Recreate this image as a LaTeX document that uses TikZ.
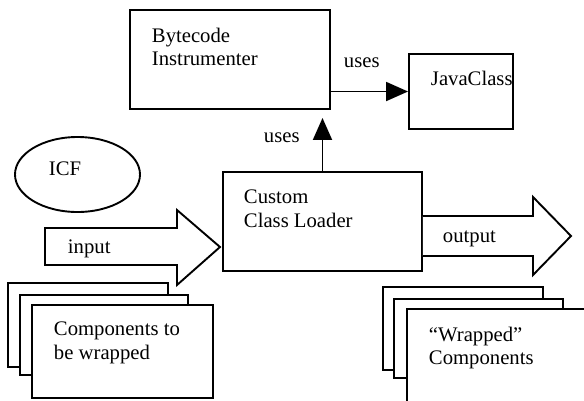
\documentclass[tikz,border=0pt]{standalone}
\usepackage{fontspec}
\setmainfont{Liberation Serif}
\usetikzlibrary{arrows.meta,shapes.geometric,calc}
\begin{document}
\begin{tikzpicture}[x=1pt,y=-1pt,line width=1.9pt,
  box/.style={draw,fill=white,rectangle,inner sep=0pt},
  txt/.style={inner sep=0pt,align=left,font=\fontsize{20.7}{23.5}\selectfont},
  uses/.style={-{Triangle[length=22pt,width=19pt]}},
  blockarrow/.style={draw,fill=white,line join=miter}]
\useasboundingbox (0,0) rectangle (584,400);

% main components
\node[box,minimum width=200pt,minimum height=99pt] (bi) at (230,59.5) {};
\node[box,minimum width=104pt,minimum height=75pt] (jc) at (461,91.5) {};
\node[box,minimum width=199pt,minimum height=99pt] (cl) at (322.5,221.5) {};
\node[draw,ellipse,inner sep=0pt,minimum width=125pt,minimum height=75pt] (icf) at (77.5,174.5) {};

\node[txt,anchor=north west] (biT) at (151,27) {Bytecode\\Instrumenter};
\node[txt,anchor=north west] (jcT) at (430,70) {JavaClass};
\node[txt,anchor=north west] (clT) at (243,189) {Custom\\Class Loader};
\node[txt,anchor=base west] (icfT) at (48,175) {ICF};

% "uses" relations
\draw[uses] (jc.west -| bi.east) -- (jc.west);
\draw[uses,shorten >=8pt] (cl.north) -- (cl.north |- bi.south);
\node[txt,anchor=base west] (u1) at (343,67) {uses};
\node[txt,anchor=base west] (u2) at (263,142) {uses};

% input block arrow into the class loader
\coordinate (inTail) at (45,246.5);
\draw[blockarrow] (inTail |- 0,228) -- (177,228) -- (177,210) -- (220,247)
  -- (177,285) -- (177,265) -- (inTail |- 0,265) -- cycle;
\node[txt,anchor=base west] (inT) at (67,253) {input};

% output block arrow out of the class loader
\draw[blockarrow] (cl.east |- 0,216) -- (533,216) -- (533,197) -- (571,236)
  -- (533,275) -- (533,256) -- (cl.east |- 0,256);
\node[txt,anchor=base west] (outT) at (442,242) {output};

% stack of components to be wrapped
\node[box,minimum width=160pt,minimum height=84pt] (a1) at (88,325) {};
\node[box,minimum width=168pt,minimum height=80pt] (a2) at (104,335) {};
\node[box,minimum width=181pt,minimum height=93pt] (a3) at (122.5,351.5) {};
\node[txt,anchor=north west] (aT) at (53,321) {Components to\\be wrapped};

% stack of wrapped components
\node[box,minimum width=160pt,minimum height=83pt] (b1) at (463,328.5) {};
\node[box,minimum width=169pt,minimum height=79pt] (b2) at (478.5,338.5) {};
\node[box,minimum width=213pt,minimum height=121pt] (b3) at (513.5,369.5) {};
\node[txt,anchor=north west] (bT) at (428,326) {“Wrapped”\\Components};
\end{tikzpicture}
\end{document}
